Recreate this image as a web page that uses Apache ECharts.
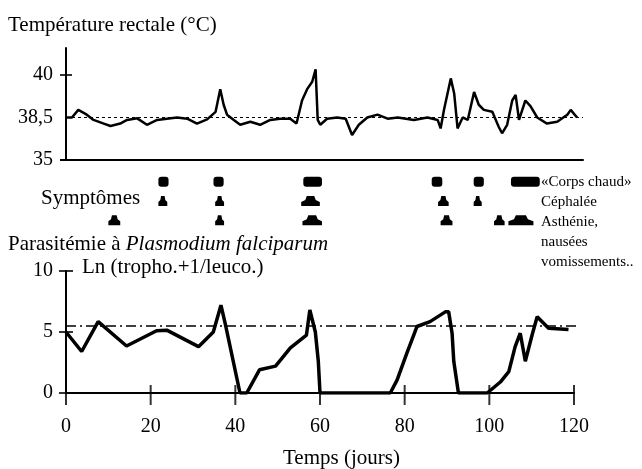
<!DOCTYPE html>
<html>
<head>
<meta charset="utf-8">
<script src="https://cdn.jsdelivr.net/npm/echarts@6/dist/echarts.min.js"></script>
<style>
html, body { margin: 0; padding: 0; background: #fff; }
#chart { width: 642px; height: 469px; }
</style>
</head>
<body>
<div id="chart"></div>
<script>
// rectal temperature (day, °C)
var tempDays = [0, 1.4, 2.9, 4.9, 6.5, 8.9, 10.5, 12.8, 14.4, 16.8, 19.1, 21.5, 23.8, 26.2, 28.6, 30.9, 33.3, 35.3, 36.4, 37.2,
  38.0, 39.6, 41.1, 43.5, 45.8, 48.2, 50.5, 52.9, 54.4, 55.7, 56.9, 58.1, 58.9, 59.4, 60.0, 61.6, 64, 66, 67.5, 69.1,
  71.1, 73.5, 75.9, 78.3, 82.1, 85.3, 87.7, 88.4, 89.2, 90.8, 91.6, 92.4, 93.6, 94.8, 96.3, 97.4, 98.6, 100.6, 102.1, 102.9,
  104.1, 105.3, 106.1, 106.9, 108.4, 109.6, 111.2, 113.5, 115.9, 118.3, 119.1, 120.6];
var tempValues = [38.5, 38.5, 38.77, 38.6, 38.3, 38.0, 37.8, 38.0, 38.3, 38.43, 37.9, 38.3, 38.4, 38.5, 38.4, 38.0, 38.35, 38.7, 39.5, 38.95,
  38.6, 38.3, 37.9, 38.15, 37.9, 38.3, 38.4, 38.4, 38.0, 39.1, 39.5, 39.76, 40.2, 38.3, 37.9, 38.4, 38.5, 38.4, 37.06, 37.9,
  38.5, 38.6, 38.4, 38.5, 38.3, 38.5, 38.3, 37.6, 38.77, 39.88, 39.35, 37.6, 38.5, 38.3, 39.4, 38.95, 38.77, 38.7, 37.74, 37.2,
  37.9, 39.1, 39.3, 38.3, 39.1, 38.9, 38.5, 38.0, 38.15, 38.6, 38.77, 38.5];
var tempTicks = [35, 38.5, 40];
var tempRef = 38.5;

// parasitaemia Ln(tropho.+1/leuco.)
var paraDays = [0, 3.7, 7.6, 14.3, 21.4, 23.8, 31.3, 34.8, 36.6, 37.6, 41.1, 42.7, 45.7, 49.5, 53, 56.8, 57.6, 58.9, 59.6, 60,
  76.6, 78.2, 80.5, 82.9, 86, 89.6, 90.4, 91.2, 91.6, 92.7, 99.5, 102.6, 104.6, 106.1, 107.3, 108.5, 110.1, 111.3, 114, 118.7];
var paraValues = [5.0, 3.4, 5.85, 3.85, 5.1, 5.15, 3.8, 5.0, 7.2, 5.7, 0, 0, 1.9, 2.2, 3.7, 4.75, 6.8, 5.0, 2.6, 0,
  0, 1.05, 3.25, 5.45, 5.85, 6.65, 6.65, 4.9, 2.6, 0, 0, 0.9, 1.75, 3.8, 4.9, 2.6, 4.75, 6.25, 5.3, 5.2];
var paraRef = 5.5;
var paraTicks = [0, 5, 10];
var dayTicks = [0, 20, 40, 60, 80, 100, 120];

// symptom episodes (start day, end day)
var symptomNames = ['«Corps chaud»', 'Céphalée', 'Asthénie,', 'nausées', 'vomissements..'];
var feverSpans = [[21.8, 24.2], [34.8, 37.2], [56, 60.4], [86.3, 88.8], [96.2, 98.6], [105, 111.8]];
var headacheSpans = [[21.8, 23.9], [35.2, 37.3], [55.5, 59.9], [87.8, 90.3], [96.2, 98.1]];
var asthenieSpans = [[10, 12.8], [35.2, 37.3], [55.8, 60.4], [88.4, 91.2], [101, 103.5], [104.4, 110.3]];

var serif = 'Liberation Serif';

// the temperature axis of the original puts 35, 38,5 and 40 at equal gaps
function tempToAxis(t) {
  if (t <= tempTicks[1]) return (t - tempTicks[0]) / (tempTicks[1] - tempTicks[0]);
  return 1 + (t - tempTicks[1]) / (tempTicks[2] - tempTicks[1]);
}

function pairs(xs, ys, f) {
  return xs.map(function (x, i) { return [x, f ? f(ys[i]) : ys[i]]; });
}

function spanData(spans, row) {
  return spans.map(function (s) { return [s[0], s[1], row + 0.5]; });
}

function symptomShape(kind) {
  return function (params, api) {
    var a = api.coord([api.value(0), api.value(2)]);
    var b = api.coord([api.value(1), api.value(2)]);
    var h = 10, x0 = a[0], x1 = b[0], w = x1 - x0;
    var yt = a[1] - h / 2, yb = a[1] + h / 2;
    if (kind === 'pill') {
      return { type: 'rect', shape: { x: x0, y: yt, width: w, height: h, r: 3 }, style: { fill: '#000' } };
    }
    return {
      type: 'polygon',
      shape: { points: [[x0, yb], [x0, yb - 4], [x0 + w * 0.22, yt + 4], [x0 + w * 0.3, yt], [x1 - w * 0.3, yt],
        [x1 - w * 0.22, yt + 4], [x1, yb - 4], [x1, yb]] },
      style: { fill: '#000' }
    };
  };
}

// crossing tick marks, placed on the axes as small bars
function tickMarks(xi, yi, data, size, offset) {
  return { type: 'scatter', xAxisIndex: xi, yAxisIndex: yi, silent: true, clip: false, symbol: 'rect',
    symbolSize: size, symbolOffset: offset || [0, 0], itemStyle: { color: '#000' }, data: data };
}

var txt = { fontFamily: serif, fontSize: 21, fontWeight: 'normal', color: '#000' };
var note = { fontFamily: serif, fontSize: 15, fontWeight: 'normal', color: '#000' };
var axisBlack = { show: true, lineStyle: { color: '#000', width: 2 } };
var tickBlack = { color: '#000', width: 2 };
function off() { return { show: false }; }

var titles = [
  { text: 'Température rectale (°C)', left: 8, top: 15, padding: 0, textStyle: txt },
  { text: 'Symptômes', left: 41, top: 188, padding: 0, textStyle: txt },
  { text: '{n|Parasitémie à }{i|Plasmodium falciparum}', left: 8, top: 234, padding: 0,
    textStyle: { rich: { n: txt, i: Object.assign({}, txt, { fontStyle: 'italic' }) } } },
  { text: 'Ln (tropho.+1/leuco.)', left: 82, top: 257, padding: 0, textStyle: txt },
  { text: 'Temps (jours)', left: 283, top: 448, padding: 0, textStyle: txt }
];
var noteTops = [175, 195, 215, 235, 255];
symptomNames.forEach(function (s, i) {
  titles.push({ text: s, left: 541, top: noteTops[i], padding: 0, textStyle: note });
});

var tempMax = 2.635;

var chart = echarts.init(document.getElementById('chart'));
chart.setOption({
  animation: false,
  backgroundColor: '#fff',
  title: titles,
  grid: [
    { left: 66, right: 59, top: 48, height: 112 },
    { left: 66, right: 59, top: 172, height: 58 },
    { left: 66, right: 68, top: 271, height: 122 }
  ],
  xAxis: [
    { type: 'value', gridIndex: 0, min: 0, max: 122, axisLine: axisBlack, axisTick: off(),
      axisLabel: off(), splitLine: off() },
    { type: 'value', gridIndex: 1, min: 0, max: 122, show: false },
    { type: 'value', gridIndex: 2, min: 0, max: 120, interval: 20, axisLine: axisBlack, axisTick: off(),
      axisLabel: { margin: 24, fontFamily: serif, fontSize: 20, color: '#000', customValues: dayTicks },
      splitLine: off() }
  ],
  yAxis: [
    { type: 'value', gridIndex: 0, min: 0, max: tempMax, axisLine: axisBlack,
      axisTick: { show: true, customValues: [0], length: 6, lineStyle: tickBlack },
      axisLabel: { customValues: [0, 1, 2], margin: 13, fontFamily: serif, fontSize: 20, color: '#000',
        formatter: function (v) { return String(tempTicks[Math.round(v)]).replace('.', ','); } },
      splitLine: off() },
    { type: 'value', gridIndex: 1, min: 0, max: 3, inverse: true, show: false },
    { type: 'value', gridIndex: 2, min: 0, max: 10, interval: 5, axisLine: axisBlack, axisTick: off(),
      axisLabel: { margin: 13, fontFamily: serif, fontSize: 20, color: '#000' }, splitLine: off() }
  ],
  series: [
    { type: 'line', xAxisIndex: 0, yAxisIndex: 0, showSymbol: false, silent: true,
      data: [[0, tempToAxis(tempRef)], [122, tempToAxis(tempRef)]],
      lineStyle: { color: '#000', width: 1, type: [3, 3] } },
    { type: 'line', xAxisIndex: 0, yAxisIndex: 0, showSymbol: false, silent: true,
      data: pairs(tempDays, tempValues, tempToAxis),
      lineStyle: { color: '#000', width: 2.5 } },
    tickMarks(0, 0, [[0, tempToAxis(tempTicks[2])]], [12, 2]),
    { type: 'custom', xAxisIndex: 1, yAxisIndex: 1, renderItem: symptomShape('pill'), data: spanData(feverSpans, 0) },
    { type: 'custom', xAxisIndex: 1, yAxisIndex: 1, renderItem: symptomShape('bell'), data: spanData(headacheSpans, 1) },
    { type: 'custom', xAxisIndex: 1, yAxisIndex: 1, renderItem: symptomShape('bell'), data: spanData(asthenieSpans, 2) },
    { type: 'line', xAxisIndex: 2, yAxisIndex: 2, showSymbol: false, silent: true, clip: false,
      data: [[0, paraRef], [122.1, paraRef]],
      lineStyle: { color: '#000', width: 1.5, type: [10, 4, 2, 4] } },
    { type: 'line', xAxisIndex: 2, yAxisIndex: 2, showSymbol: false, silent: true,
      data: pairs(paraDays, paraValues),
      lineStyle: { color: '#000', width: 3.5 } },
    tickMarks(2, 2, paraTicks.map(function (v) { return [0, v]; }), [14, 2]),
    tickMarks(2, 2, dayTicks.map(function (d) { return [d, 0]; }), [2, 20], [0, 2])
  ]
});
</script>
</body>
</html>
